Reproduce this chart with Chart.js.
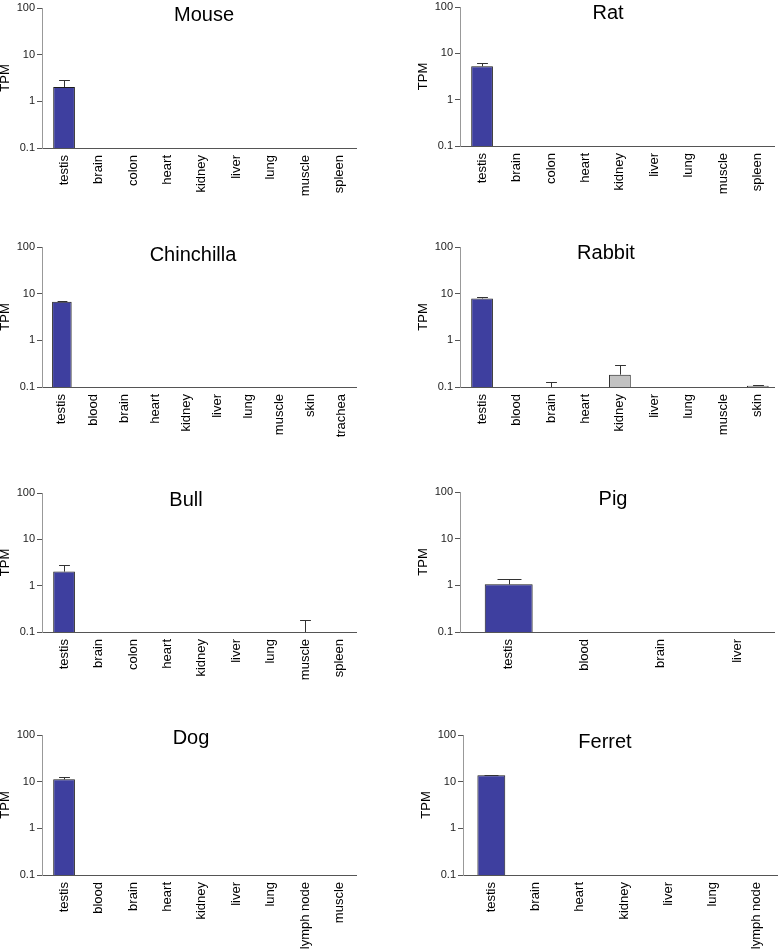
<!DOCTYPE html>
<html>
<head>
<meta charset="utf-8">
<script src="https://cdn.jsdelivr.net/npm/chart.js@4.4.1/dist/chart.umd.min.js"></script>
<style>
  html, body { margin: 0; padding: 0; background: #fff; width: 778px; height: 951px; overflow: hidden; position: relative; }
  canvas { position: absolute; }
</style>
</head>
<body>
<script>
// y axis ticks (log scale)
const yTicks = [0.1, 1, 10, 100];

// tissues, TPM means and SD per species (0 = not detected)
const mouseTissues = ["testis", "brain", "colon", "heart", "kidney", "liver", "lung", "muscle", "spleen"];
const mouseTPM = [2.03, 0, 0, 0, 0, 0, 0, 0, 0];
const mouseSD = [0.84, 0, 0, 0, 0, 0, 0, 0, 0];

const ratTissues = ["testis", "brain", "colon", "heart", "kidney", "liver", "lung", "muscle", "spleen"];
const ratTPM = [5.25, 0, 0, 0, 0, 0, 0, 0, 0];
const ratSD = [0.85, 0, 0, 0, 0, 0, 0, 0, 0];

const chinchillaTissues = ["testis", "blood", "brain", "heart", "kidney", "liver", "lung", "muscle", "skin", "trachea"];
const chinchillaTPM = [6.7, 0, 0, 0, 0, 0, 0, 0, 0, 0];
const chinchillaSD = [0.3, 0, 0, 0, 0, 0, 0, 0, 0, 0];

const rabbitTissues = ["testis", "blood", "brain", "heart", "kidney", "liver", "lung", "muscle", "skin"];
const rabbitTPM = [7.9, 0, 0, 0, 0.184, 0, 0, 0, 0.106];
const rabbitSD = [0.6, 0, 0.13, 0, 0.106, 0, 0, 0, 0.003];

const bullTissues = ["testis", "brain", "colon", "heart", "kidney", "liver", "lung", "muscle", "spleen"];
const bullTPM = [2.01, 0, 0, 0, 0, 0, 0, 0, 0];
const bullSD = [0.79, 0, 0, 0, 0, 0, 0, 0.18, 0];

const pigTissues = ["testis", "blood", "brain", "liver"];
const pigTPM = [1.05, 0, 0, 0];
const pigSD = [0.34, 0, 0, 0];

const dogTissues = ["testis", "blood", "brain", "heart", "kidney", "liver", "lung", "lymph node", "muscle"];
const dogTPM = [11.2, 0, 0, 0, 0, 0, 0, 0, 0];
const dogSD = [1.2, 0, 0, 0, 0, 0, 0, 0, 0];

const ferretTissues = ["testis", "brain", "heart", "kidney", "liver", "lung", "lymph node"];
const ferretTPM = [13.7, 0, 0, 0, 0, 0, 0];
const ferretSD = [0.1, 0, 0, 0, 0, 0, 0];

const FONT = "'Liberation Sans', Arial, Helvetica, sans-serif";
const BLUE = "#3e3f9f";
const GREY = "#c2c2c2";
const Y_W = 60;   // room for ticks + TPM
const X_H = 80;   // room for rotated tissue names
const PAD_TOP = 10;

// page geometry of each panel (axis corner, top/bottom of y axis, end of x axis, title centre)
const panels = [
  { name: "Mouse", tissues: mouseTissues, tpm: mouseTPM, sd: mouseSD, ax: 42, top: 8, bottom: 148, right: 357, tx: 204, ty: 15 },
  { name: "Rat", tissues: ratTissues, tpm: ratTPM, sd: ratSD, ax: 460, top: 7, bottom: 146, right: 775, tx: 608, ty: 13 },
  { name: "Chinchilla", tissues: chinchillaTissues, tpm: chinchillaTPM, sd: chinchillaSD, ax: 42, top: 247, bottom: 387, right: 357, tx: 193, ty: 255 },
  { name: "Rabbit", tissues: rabbitTissues, tpm: rabbitTPM, sd: rabbitSD, ax: 460, top: 247, bottom: 387, right: 775, tx: 606, ty: 253 },
  { name: "Bull", tissues: bullTissues, tpm: bullTPM, sd: bullSD, ax: 42, top: 493, bottom: 632, right: 357, tx: 186, ty: 500 },
  { name: "Pig", tissues: pigTissues, tpm: pigTPM, sd: pigSD, ax: 460, top: 492, bottom: 632, right: 775, tx: 613, ty: 499 },
  { name: "Dog", tissues: dogTissues, tpm: dogTPM, sd: dogSD, ax: 42, top: 735, bottom: 875, right: 357, tx: 191, ty: 738 },
  { name: "Ferret", tissues: ferretTissues, tpm: ferretTPM, sd: ferretSD, ax: 463, top: 735, bottom: 875, right: 779, tx: 605, ty: 742 }
];

function errorBars(p) {
  return {
    id: "errorBars",
    afterDatasetsDraw(chart) {
      const { ctx, scales: { x, y } } = chart;
      const bar = chart.getDatasetMeta(0).data.find(b => b && b.width > 0);
      const cap = bar ? bar.width / 4 : 5;
      ctx.save();
      ctx.strokeStyle = "#333";
      ctx.lineWidth = 1;
      p.tpm.forEach((v, i) => {
        const sd = p.sd[i];
        if (!sd) return;
        const px = Math.round(x.getPixelForValue(i)) + 0.5;
        const yb = y.getPixelForValue(Math.max(v, 0.1));
        const yt = Math.round(y.getPixelForValue(v + sd)) + 0.5;
        ctx.beginPath();
        ctx.moveTo(px, yb);
        ctx.lineTo(px, yt);
        ctx.moveTo(px - cap, yt);
        ctx.lineTo(px + cap, yt);
        ctx.stroke();
      });
      ctx.restore();
    }
  };
}

function panelTitle(p, left, top) {
  return {
    id: "panelTitle",
    afterDraw(chart) {
      const ctx = chart.ctx;
      ctx.save();
      ctx.fillStyle = "#000";
      ctx.font = "20px " + FONT;
      ctx.textAlign = "center";
      ctx.textBaseline = "middle";
      ctx.fillText(p.name, p.tx - left, p.ty - top);
      ctx.restore();
    }
  };
}

panels.forEach(p => {
  const left = p.ax - Y_W;
  const top = p.top - PAD_TOP;
  const cv = document.createElement("canvas");
  cv.width = Y_W + (p.right - p.ax);
  cv.height = PAD_TOP + (p.bottom - p.top) + X_H;
  cv.style.left = left + "px";
  cv.style.top = top + "px";
  document.body.appendChild(cv);

  const n = p.tissues.length;
  new Chart(cv.getContext("2d"), {
    type: "bar",
    data: {
      datasets: [{
        data: p.tpm.map((v, i) => ({ x: i, y: v > 0 ? v : null })),
        backgroundColor: p.tissues.map(t => t === "testis" ? BLUE : GREY),
        borderColor: "#1c1c1c",
        borderWidth: 1,
        borderSkipped: "bottom",
        barPercentage: 0.63,
        categoryPercentage: 1
      }]
    },
    options: {
      responsive: false,
      animation: false,
      layout: { padding: { top: PAD_TOP, left: 0, right: 0, bottom: 0 } },
      plugins: { legend: { display: false }, tooltip: { enabled: false } },
      scales: {
        x: {
          type: "linear",
          min: -0.64,
          max: n - 1 + 0.5,
          offset: false,
          afterBuildTicks: s => { s.ticks = p.tissues.map((t, i) => ({ value: i })); },
          afterFit: s => { s.height = X_H; s.paddingLeft = 0; s.paddingRight = 0; },
          ticks: {
            autoSkip: false, minRotation: 90, maxRotation: 90, padding: 7,
            color: "#000", font: { family: FONT, size: 13 },
            callback: v => p.tissues[v]
          },
          grid: { display: false, drawTicks: false },
          border: { display: true, color: "#555", width: 1 }
        },
        y: {
          type: "logarithmic",
          min: 0.1,
          max: 100,
          afterBuildTicks: s => { s.ticks = yTicks.map(v => ({ value: v })); },
          afterFit: s => { s.width = Y_W; },
          ticks: {
            padding: 2, color: "#222", font: { family: FONT, size: 11 },
            callback: v => String(v)
          },
          grid: { drawOnChartArea: false, drawTicks: true, tickLength: 5, color: "#555" },
          border: { display: true, color: "#999", width: 1 },
          title: {
            display: true, text: "TPM", color: "#000",
            font: { family: FONT, size: 13 }, padding: { top: 16, bottom: 0 }
          }
        }
      }
    },
    plugins: [errorBars(p), panelTitle(p, left, top)]
  });
});
</script>
</body>
</html>
